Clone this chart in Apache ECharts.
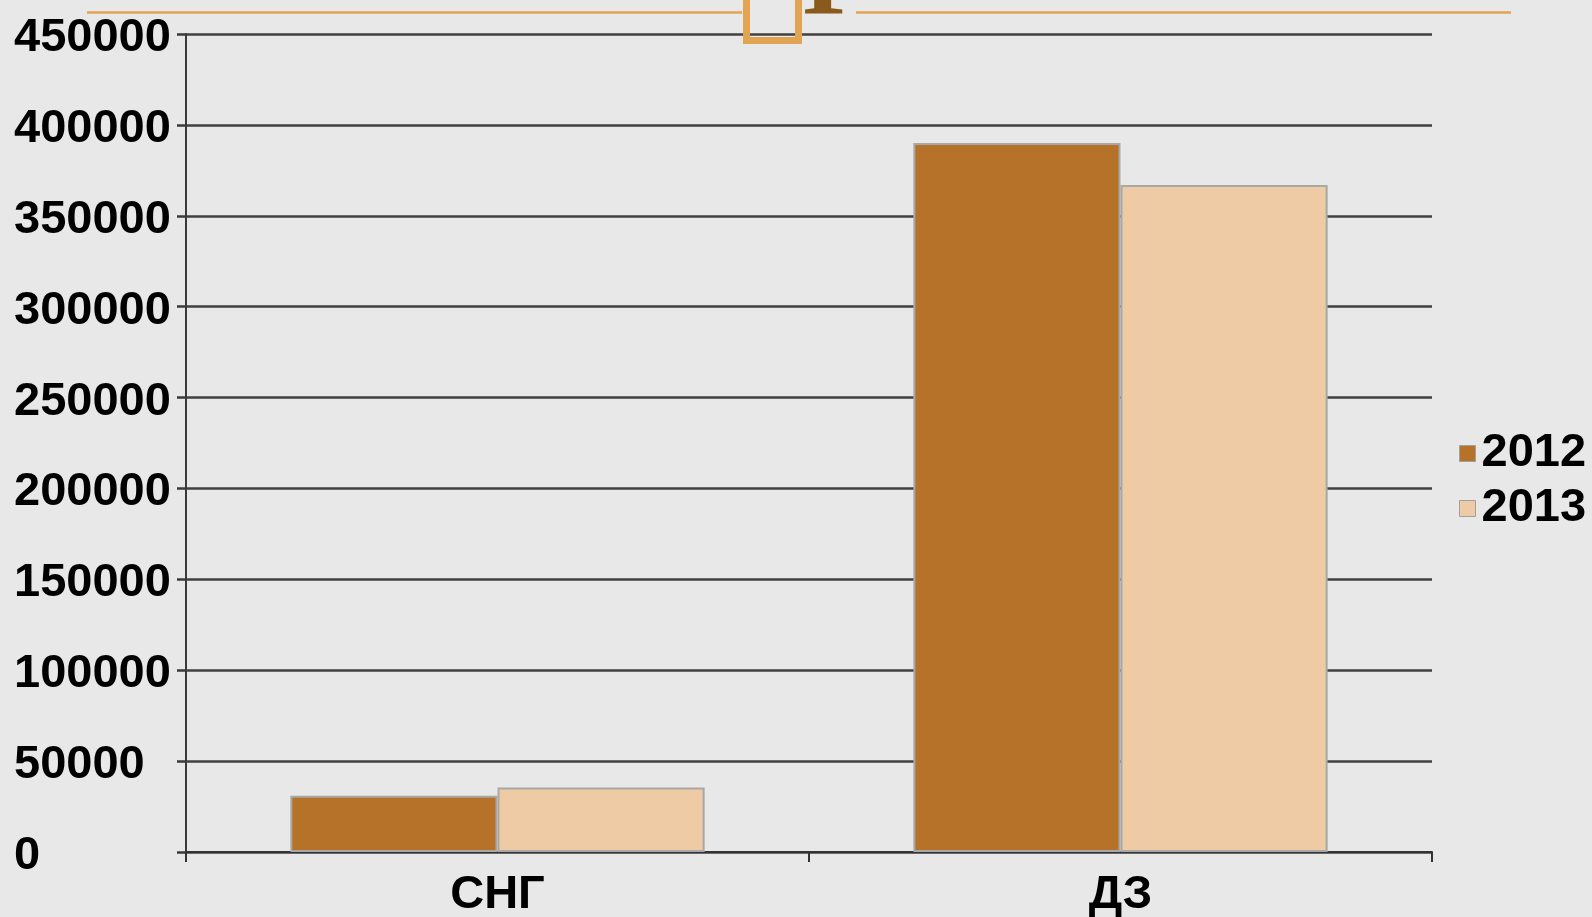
<!DOCTYPE html>
<html>
<head>
<meta charset="utf-8">
<title>СНГ / ДЗ</title>
<script src="https://cdn.jsdelivr.net/npm/echarts@6/dist/echarts.min.js"></script>
<style>
  html, body { margin: 0; padding: 0; background: #e8e8e8; }
  #chart { width: 1592px; height: 917px; }
</style>
</head>
<body>
<div id="chart"></div>
<script>
// Categories and yearly values
const categories = ['СНГ', 'ДЗ'];
const years = ['2012', '2013'];
const values2012 = [31000, 390000];
const values2013 = [35500, 367000];

// Value axis range
const yMin = 0;
const yMax = 450000;
const yStep = 50000;

const seriesColors = ['#b7722a', '#eecba4'];
const labelFont = '"Liberation Sans", Arial, sans-serif';

const chart = echarts.init(document.getElementById('chart'), null, { renderer: 'canvas' });

const option = {
  backgroundColor: '#e8e8e8',
  animation: false,
  grid: { left: 186, right: 160, top: 34, bottom: 65, containLabel: false, outerBoundsMode: 'none' },
  legend: {
    orient: 'vertical',
    left: 1454,
    top: 425,
    itemWidth: 16,
    itemHeight: 16,
    itemGap: 8,
    icon: 'rect',
    data: years,
    textStyle: { fontSize: 47, fontWeight: 'bold', color: '#000', fontFamily: labelFont, padding: [0, 0, 0, 1] },
    itemStyle: { borderColor: '#a0a0a0', borderWidth: 1 }
  },
  xAxis: {
    type: 'category',
    data: categories,
    axisLine: { show: true, lineStyle: { color: '#333', width: 2 } },
    axisTick: { show: true, length: 10, lineStyle: { color: '#333', width: 2 } },
    axisLabel: { fontSize: 47, fontWeight: 'bold', color: '#000', fontFamily: labelFont, margin: 20 }
  },
  yAxis: {
    type: 'value',
    min: yMin,
    max: yMax,
    interval: yStep,
    axisLine: { show: true, lineStyle: { color: '#3a3a3a', width: 2 } },
    axisTick: { show: true, length: 9, lineStyle: { color: '#3a3a3a', width: 2.5 } },
    splitLine: { show: true, lineStyle: { color: '#404040', width: 2.5 } },
    axisLabel: {
      align: 'left', margin: 172,
      formatter: (v) => '{n|' + v + '}',
      rich: {
        n: {
          fontSize: 47, fontWeight: 'bold', color: '#000', fontFamily: labelFont,
          padding: [8, 0, 0, 0]
        }
      }
    }
  },
  series: [
    {
      name: years[0],
      type: 'bar',
      data: values2012,
      barGap: '0%',
      barCategoryGap: '33.5%',
      itemStyle: { color: seriesColors[0], borderColor: '#a8a8a8', borderWidth: 2 }
    },
    {
      name: years[1],
      type: 'bar',
      data: values2013,
      itemStyle: { color: seriesColors[1], borderColor: '#a8a8a8', borderWidth: 2 }
    }
  ],
  graphic: [
    // heading rules and frame above the plot
    { type: 'line', shape: { x1: 87, y1: 12.5, x2: 742, y2: 12.5 }, style: { stroke: '#e0a452', lineWidth: 2.5 }, z: 1 },
    { type: 'line', shape: { x1: 856, y1: 12.5, x2: 1511, y2: 12.5 }, style: { stroke: '#e0a452', lineWidth: 2.5 }, z: 1 },
    { type: 'rect', shape: { x: 746.5, y: -10, width: 52, height: 50.5 }, style: { fill: 'none', stroke: '#e0a452', lineWidth: 7 }, z: 1 },
    { type: 'text', x: 803, y: -69, style: { text: 'Г', font: 'bold 110px "Liberation Serif", "Times New Roman", serif', fill: '#8a5a1c' }, z: 1 }
  ]
};

chart.setOption(option);
</script>
</body>
</html>
